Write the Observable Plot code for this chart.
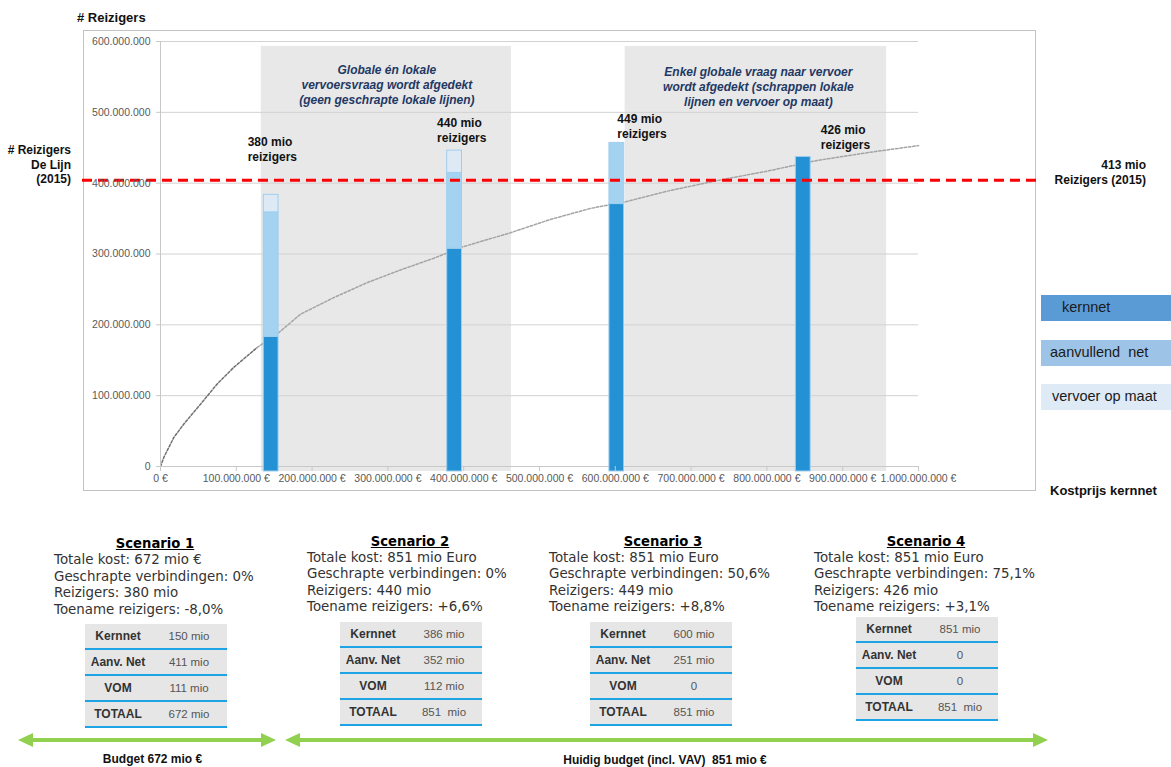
<!DOCTYPE html>
<html><head><meta charset="utf-8">
<script src="https://cdn.jsdelivr.net/npm/d3@7"></script>
<script src="https://cdn.jsdelivr.net/npm/@observablehq/plot@0.6"></script>
<style>
html,body{margin:0;padding:0;background:#fff;overflow:hidden;}
#wrap{position:relative;width:1171px;height:767px;overflow:hidden;font-family:"Liberation Sans",Arial,sans-serif;}
.abs{position:absolute;white-space:pre;}
.scen{font-family:"DejaVu Sans",Verdana,sans-serif;}
.tbl{position:absolute;width:142px;}
.row{display:flex;height:24px;background:#e6e6e6;border-bottom:2px solid #1ea4e4;align-items:center;}
.c1{width:66px;text-align:center;font-weight:bold;font-size:12px;color:#333;}
.c2{width:76px;text-align:center;font-size:11.5px;color:#555;}
</style></head><body><div id="wrap"></div>
<script>
// ---------- data ----------
const scenarioNames = ["Scenario 1", "Scenario 2", "Scenario 3", "Scenario 4"];
const barCost = [146e6, 388e6, 602e6, 848e6];            // kostprijs kernnet (x)
const kernnetRiders = [183e6, 307.5e6, 370.5e6, 437e6];
const aanvullendRiders = [175.7e6, 107e6, 86.3e6, 0];
const vomRiders = [24.8e6, 31.5e6, 0, 0];
const segmentNames = ["kernnet", "aanvullend  net", "vervoer op maat"];

const curveCost = [0, 4.4e6, 17.6e6, 30.8e6, 52.8e6, 74.8e6, 96.7e6, 127.5e6, 156e6, 184.7e6, 228.7e6, 272.7e6, 316.6e6, 360.6e6, 398e6, 461.7e6, 514.5e6, 567.3e6, 613.5e6, 668.5e6, 734.4e6, 800.4e6, 866e6, 932e6, 1000e6];
const curveRiders = [0, 13e6, 41e6, 60e6, 88e6, 116.5e6, 140e6, 168e6, 189e6, 215e6, 238.5e6, 259.6e6, 277.5e6, 294e6, 309.9e6, 330e6, 348.8e6, 364.4e6, 373.7e6, 388.7e6, 403.7e6, 417e6, 432e6, 443e6, 453e6];

const bandStart = [133e6, 613e6];
const bandEnd = [463e6, 958e6];
const bandTop = 593e6;
const bandNotes = ["Globale én lokale\nvervoersvraag wordt afgedekt\n(geen geschrapte lokale lijnen)",
                   "Enkel globale vraag naar vervoer\nwordt afgedekt (schrappen lokale\nlijnen en vervoer op maat)"];

const refLine = 404e6; // # reizigers De Lijn 2015 (as drawn)
const xTicks = [0, 1e8, 2e8, 3e8, 4e8, 5e8, 6e8, 7e8, 8e8, 9e8, 1e9];
const yTicks = [0, 1e8, 2e8, 3e8, 4e8, 5e8, 6e8];

const totaleKost = ["672 mio €", "851 mio Euro", "851 mio Euro", "851 mio Euro"];
const geschrapt = ["0%", "0%", "50,6%", "75,1%"];
const reizigers = ["380 mio", "440 mio", "449 mio", "426 mio"];
const toename = ["-8,0%", "+6,6%", "+8,8%", "+3,1%"];
const tableLabels = ["Kernnet", "Aanv. Net", "VOM", "TOTAAL"];
const tableValues = [["150 mio", "411 mio", "111 mio", "672 mio"],
                     ["386 mio", "352 mio", "112 mio", "851  mio"],
                     ["600 mio", "251 mio", "0", "851 mio"],
                     ["851 mio", "0", "0", "851  mio"]];

// ---------- derived tables ----------
const barWidth = 19.5e6;
const segs = [];
scenarioNames.forEach((s, i) => {
  const vals = [kernnetRiders[i], aanvullendRiders[i], vomRiders[i]];
  let y0 = 0;
  vals.forEach((v, j) => {
    if (v > 0) segs.push({s, seg: segmentNames[j], x1: barCost[i] - barWidth / 2, x2: barCost[i] + barWidth / 2, y1: y0, y2: y0 + v});
    y0 += v;
  });
});
const curve = curveCost.map((x, i) => ({x, y: curveRiders[i]}));
const bands = bandStart.map((x1, i) => ({x1, x2: bandEnd[i], y1: 0, y2: bandTop}));
const fmt = d => d3.format(",")(d).replace(/,/g, ".");
const segColor = {"kernnet": "#2391d3", "aanvullend  net": "#a3d3f0", "vervoer op maat": "#ddeaf6"};

const plot = Plot.plot({
  width: 1171, height: 500,
  marginLeft: 160, marginRight: 253, marginTop: 41, marginBottom: 34,
  x: {domain: [0, 1e9]},
  y: {domain: [0, 600e6]},
  style: {background: "transparent", fontFamily: "'Liberation Sans', Arial, sans-serif", fontSize: "10.5px", overflow: "visible"},
  marks: [
    Plot.rect(bands, {x1: "x1", x2: "x2", y1: "y1", y2: "y2", fill: "#e8e8e8", insetBottom: -5}),
    Plot.ruleY(yTicks.slice(1), {stroke: "#d2d2d2", strokeWidth: 1}),
    Plot.line(curve.filter(d => d.x <= 127.5e6), {x: "x", y: "y", stroke: "#707070", strokeWidth: 1.5, strokeDasharray: "2.5,1.8"}),
    Plot.line(curve.filter(d => d.x >= 127.5e6), {x: "x", y: "y", stroke: "#a4a4a4", strokeWidth: 1.5, strokeDasharray: "2.5,1.8"}),
    Plot.ruleX([0], {stroke: "#c8c8c8"}),
    Plot.ruleY([0], {stroke: "#c8c8c8"}),
    Plot.rect(segs.filter(d => d.seg === "kernnet"), {x1: "x1", x2: "x2", y1: "y1", y2: "y2", fill: d => segColor[d.seg], stroke: "#9fcdee", strokeWidth: 1, insetBottom: -5}),
    Plot.rect(segs.filter(d => d.seg !== "kernnet"), {x1: "x1", x2: "x2", y1: "y1", y2: "y2", fill: d => segColor[d.seg], stroke: "#9fcdee", strokeWidth: 1}),
    Plot.ruleY([refLine], {stroke: "#ff0000", strokeWidth: 3, strokeDasharray: "10,6", insetLeft: -78, insetRight: -120}),
    Plot.axisX({ticks: xTicks, tickFormat: d => fmt(d) + " €", tickSize: 5, tickPadding: 3, stroke: "#c8c8c8", fill: "#595959", label: null}),
    Plot.axisY({ticks: yTicks, tickFormat: fmt, tickSize: 4, tickPadding: 6, stroke: "#c8c8c8", fill: "#595959", label: null})
  ]
});

const wrap = document.getElementById("wrap");
// chart frame
const frame = document.createElement("div");
Object.assign(frame.style, {position: "absolute", left: "83px", top: "30px", width: "951px", height: "459px", border: "1px solid #c3c3c3"});
wrap.appendChild(frame);
plot.style.position = "absolute";
plot.style.left = "0px";
plot.style.top = "0px";
wrap.appendChild(plot);

function addDiv(text, css) {
  const d = document.createElement("div");
  d.className = "abs";
  d.textContent = text;
  Object.assign(d.style, css);
  wrap.appendChild(d);
  return d;
}
const sx = plot.scale("x");

// axis titles & reference labels
addDiv("# Reizigers", {left: "77px", top: "10px", fontSize: "13px", lineHeight: "16px", fontWeight: "bold", color: "#111"});
addDiv("# Reizigers\nDe Lijn\n(2015)", {left: "71px", top: "143px", transform: "translateX(-100%)", textAlign: "right", fontSize: "12px", lineHeight: "14.5px", fontWeight: "bold", color: "#111"});
addDiv("413 mio\nReizigers (2015)", {left: "1146px", top: "157.5px", transform: "translateX(-100%)", textAlign: "right", fontSize: "12px", lineHeight: "15.5px", fontWeight: "bold", color: "#111"});
addDiv("Kostprijs kernnet", {left: "1050px", top: "483px", fontSize: "13px", lineHeight: "16px", fontWeight: "bold", color: "#111"});

// band notes
bands.forEach((b, i) => {
  addDiv(bandNotes[i], {left: sx.apply((b.x1 + b.x2) / 2) + (i === 0 ? 1 : 3) + "px", top: (i === 0 ? 63 : 65) + "px", transform: "translateX(-50%)", textAlign: "center",
    fontSize: "12px", lineHeight: "15px", fontWeight: "bold", fontStyle: "italic", color: "#1f3864"});
});

// bar labels
const labelDx = [-23, -17, 1, 18];
const labelTop = [134.5, 115.5, 111.5, 122.5];
barCost.forEach((c, i) => {
  addDiv(reizigers[i] + "\nreizigers", {left: sx.apply(c) + labelDx[i] + "px", top: labelTop[i] + "px", fontSize: "12px", lineHeight: "15px", fontWeight: "bold", color: "#111"});
});

// legend
const legTop = [295, 339.5, 384];
const legColors = ["#5b9bd5", "#9dc3e6", "#deebf7"];
const legTextLeft = [21, 9, 11];
segmentNames.forEach((n, i) => {
  const box = document.createElement("div");
  Object.assign(box.style, {position: "absolute", left: "1041px", top: legTop[i] + "px", width: "130px", height: "26px", background: legColors[i]});
  wrap.appendChild(box);
  addDiv(n, {left: (1041 + legTextLeft[i]) + "px", top: legTop[i] + "px", fontSize: "14.5px", lineHeight: "25px", color: "#1a1a1a"});
});

// scenario blocks
const titleCx = [155, 410, 663, 926];
const titleY = [544, 541.7, 541.7, 541.7];
const textLeft = [54, 307, 549, 814];
const tblLeft = [85, 340, 590, 856];
const tblTop = [624, 621.5, 621.5, 617];
scenarioNames.forEach((s, i) => {
  const t = addDiv(s, {left: titleCx[i] + "px", top: (titleY[i] - 8) + "px", transform: "translateX(-50%)", fontSize: "13.2px", lineHeight: "16px", fontWeight: "bold", textDecoration: "underline", color: "#000"});
  t.classList.add("scen");
  const body = addDiv(
    "Totale kost: " + totaleKost[i] + "\nGeschrapte verbindingen: " + geschrapt[i] + "\nReizigers: " + reizigers[i] + "\nToename reizigers: " + toename[i],
    {left: textLeft[i] + "px", top: (titleY[i] + 16.5 - 8.25) + "px", fontSize: "13.4px", lineHeight: "16.5px", color: "#333"});
  body.classList.add("scen");
  const tbl = document.createElement("div");
  tbl.className = "tbl";
  tbl.style.left = tblLeft[i] + "px";
  tbl.style.top = tblTop[i] + "px";
  tableLabels.forEach((lab, r) => {
    const row = document.createElement("div");
    row.className = "row";
    const c1 = document.createElement("div"); c1.className = "c1"; c1.textContent = lab;
    const c2 = document.createElement("div"); c2.className = "c2"; c2.textContent = tableValues[i][r]; c2.style.whiteSpace = "pre";
    row.appendChild(c1); row.appendChild(c2);
    tbl.appendChild(row);
  });
  wrap.appendChild(tbl);
});

// budget arrows
const arrows = [[18, 276], [285, 1048]];
const asvg = d3.select(wrap).append("svg").attr("width", 1171).attr("height", 30)
  .style("position", "absolute").style("left", "0px").style("top", "725px");
arrows.forEach(([a, b]) => {
  const y = 15, hl = 15, hh = 7;
  asvg.append("line").attr("x1", a + hl - 1).attr("x2", b - hl + 1).attr("y1", y).attr("y2", y).attr("stroke", "#92d050").attr("stroke-width", 4);
  asvg.append("path").attr("d", `M${a},${y}L${a + hl},${y - hh}L${a + hl},${y + hh}Z`).attr("fill", "#92d050");
  asvg.append("path").attr("d", `M${b},${y}L${b - hl},${y - hh}L${b - hl},${y + hh}Z`).attr("fill", "#92d050");
});
addDiv("Budget 672 mio €", {left: "152.5px", top: "751.5px", transform: "translateX(-50%)", fontSize: "12px", lineHeight: "15px", fontWeight: "bold", color: "#111"});
addDiv("Huidig budget (incl. VAV)  851 mio €", {left: "665px", top: "752.5px", transform: "translateX(-50%)", fontSize: "12px", lineHeight: "15px", fontWeight: "bold", color: "#111"});
</script></body></html>
